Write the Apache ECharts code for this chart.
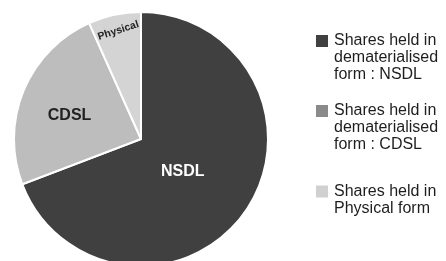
<!DOCTYPE html>
<html>
<head>
<meta charset="utf-8">
<script src="https://cdn.jsdelivr.net/npm/echarts@6/dist/echarts.min.js"></script>
<style>
  html, body {margin:0; padding:0; background:#fff;}
  #main {width:446px; height:261px;}
</style>
</head>
<body>
<div id="main"></div>
<script>
// data
var names = ['NSDL', 'CDSL', 'Physical'];
var values = [69.2, 24.1, 6.7];
var legendTexts = [
    'Shares held in\ndematerialised\nform : NSDL',
    'Shares held in\ndematerialised\nform : CDSL',
    'Shares held in\nPhysical form'
];

// styles
var sliceColors = ['#404040', '#bdbdbd', '#d4d4d4'];
var legendColors = ['#404040', '#8a8a8a', '#d0d0d0'];
var labelColors = ['#ffffff', '#222222', '#222222'];
var labelSizes = [16, 16, 10.5];
var labelRotate = [0, 0, 18];
var labelOffset = [[-13, -5], [-10, 2], [5, -44]];
var legendTop = [-1.5, 68.5, 166];

var chart = echarts.init(document.getElementById('main'));

var pieData = [];
for (var i = 0; i < names.length; i++) {
    pieData.push({
        name: names[i],
        value: values[i],
        itemStyle: {color: sliceColors[i]},
        label: {color: labelColors[i], fontSize: labelSizes[i], rotate: labelRotate[i]}
    });
}

// legend: icon lines up with the first text line, so pad the text
// with blank lines on top until the first line sits in the middle
var legends = [];
for (var i = 0; i < names.length; i++) {
    var nLines = legendTexts[i].split('\n').length;
    var pre = new Array(nLines).join('\n');
    legends.push({
        orient: 'vertical',
        left: 314,
        top: legendTop[i],
        padding: 0,
        icon: 'rect',
        itemWidth: 14,
        itemHeight: 14,
        selectedMode: false,
        data: [{name: names[i], itemStyle: {color: legendColors[i]}}],
        formatter: pre + legendTexts[i],
        textStyle: {
            fontFamily: 'Liberation Sans',
            fontSize: 16,
            lineHeight: 17,
            color: '#1e1e1e'
        }
    });
}

var option = {
    animation: false,
    legend: legends,
    series: [
        {
            name: 'Shareholding',
            type: 'pie',
            center: [141, 139],
            radius: 127,
            startAngle: 90,
            clockwise: true,
            silent: true,
            itemStyle: {borderColor: '#ffffff', borderWidth: 2},
            label: {
                show: true,
                position: 'inside',
                fontFamily: 'Liberation Sans',
                fontWeight: 'bold'
            },
            labelLine: {show: false},
            labelLayout: function (params) {
                var o = labelOffset[params.dataIndex];
                return {dx: o[0], dy: o[1]};
            },
            data: pieData
        }
    ]
};
chart.setOption(option);
</script>
</body>
</html>
